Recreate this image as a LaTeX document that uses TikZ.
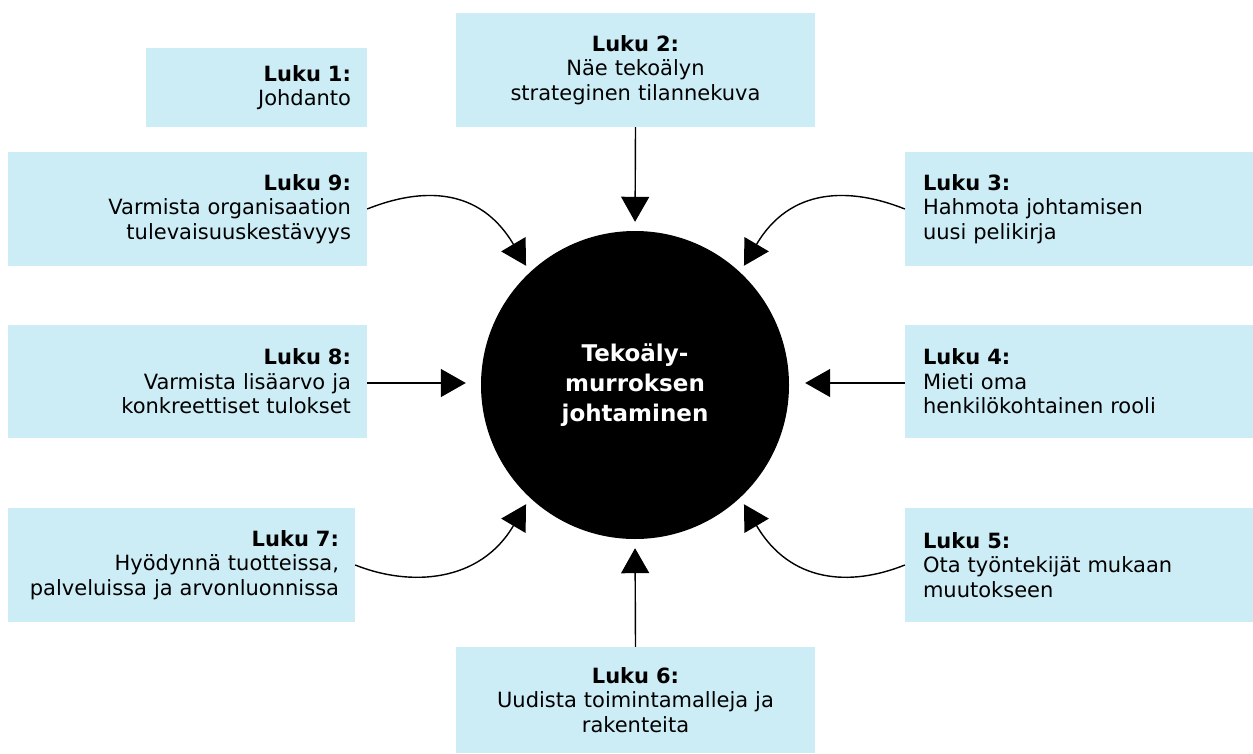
\documentclass[tikz,border=0pt]{standalone}
\usepackage{fontspec}
\setmainfont{DejaVu Sans}
\usetikzlibrary{arrows.meta}
\definecolor{boxblue}{RGB}{205,237,246}
\begin{document}
\begin{tikzpicture}[x=1pt,y=-1pt,
  chapter/.style={fill=boxblue, draw=none, inner xsep=16pt, inner ysep=0pt,
    font=\fontsize{21}{24.5}\selectfont},
  leftbox/.style={chapter, align=right},
  rightbox/.style={chapter, align=left, inner xsep=18pt},
  midbox/.style={chapter, align=center},
  hub/.style={circle, fill=black, inner sep=0pt, minimum size=308pt,
    text=white, align=center, font=\fontsize{23}{30}\selectfont\bfseries},
  link/.style={line width=1.4pt, -{Triangle[length=25pt,width=28pt]}}
]
\useasboundingbox (0,0) rectangle (1253,754);

% central topic
\node[hub] (c) at (635,385) {Tekoäly-\\murroksen\\johtaminen};

% chapter boxes
\node[leftbox, minimum width=221pt, minimum height=79pt, text width=189pt]
  (b1) at (256.5,87.5) {\textbf{Luku 1:}\\Johdanto};
\node[midbox, minimum width=359pt, minimum height=114pt, text width=327pt]
  (b2) at (635.5,70) {\textbf{Luku 2:}\\Näe tekoälyn\\strateginen tilannekuva};
\node[rightbox, minimum width=348pt, minimum height=114pt, text width=312pt]
  (b3) at (1079,209) {\textbf{Luku 3:}\\Hahmota johtamisen\\uusi pelikirja};
\node[rightbox, minimum width=348pt, minimum height=113pt, text width=312pt]
  (b4) at (1079,381.5) {\textbf{Luku 4:}\\Mieti oma\\henkilökohtainen rooli};
\node[rightbox, minimum width=348pt, minimum height=114pt, text width=312pt]
  (b5) at (1079,565) {\textbf{Luku 5:}\\Ota työntekijät mukaan\\muutokseen};
\node[midbox, minimum width=359pt, minimum height=106pt, text width=327pt]
  (b6) at (635.5,700) {\textbf{Luku 6:}\\Uudista toimintamalleja ja\\rakenteita};
\node[leftbox, minimum width=347pt, minimum height=114pt, text width=315pt]
  (b7) at (181.5,565) {\textbf{Luku 7:}\\Hyödynnä tuotteissa,\\palveluissa ja arvonluonnissa};
\node[leftbox, minimum width=359pt, minimum height=113pt, text width=327pt]
  (b8) at (187.5,381.5) {\textbf{Luku 8:}\\Varmista lisäarvo ja\\konkreettiset tulokset};
\node[leftbox, minimum width=359pt, minimum height=114pt, text width=327pt]
  (b9) at (187.5,209) {\textbf{Luku 9:}\\Varmista organisaation\\tulevaisuuskestävyys};

% straight connectors
\draw[link, shorten >=9pt] (b2.south) -- (c.north);
\draw[link, shorten >=9pt] (b6.north) -- (c.south);
\draw[link, shorten >=15pt] ([yshift=-1.5pt]b8.east) -- ([yshift=-1.5pt]b8.east -| c.west);
\draw[link, shorten >=16pt] ([yshift=-1.5pt]b4.west) -- ([yshift=-1.5pt]b4.west -| c.east);

% curved connectors
\draw[link, shorten >=7.5pt] (b9.east) .. controls +(55,-22) and +(-50,-85) .. (c.133);
\draw[link, shorten >=7.5pt] (b3.west) .. controls +(-55,-22) and +(50,-85) .. (c.47);
\draw[link, shorten >=7.5pt] (b7.east) .. controls +(55,22) and +(-50,85) .. (c.227);
\draw[link, shorten >=7.5pt] (b5.west) .. controls +(-55,22) and +(50,85) .. (c.313);
\end{tikzpicture}
\end{document}
